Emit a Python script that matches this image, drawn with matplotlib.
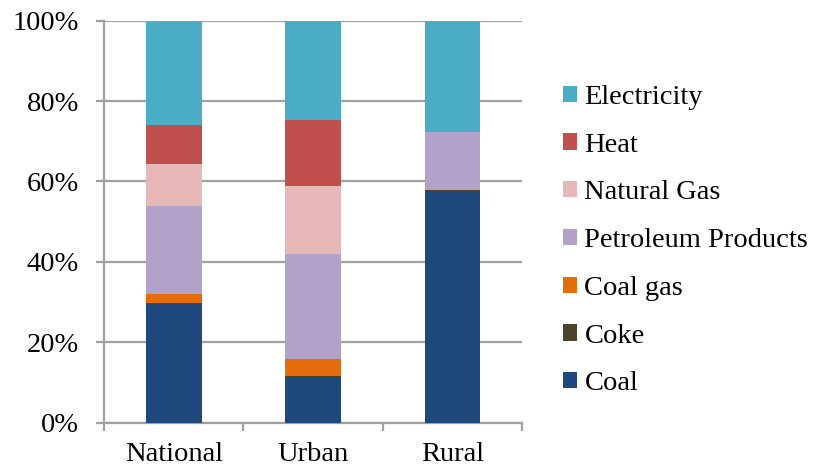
import matplotlib.pyplot as plt
import numpy as np

categories = ["National", "Urban", "Rural"]
series = ["Coal", "Coke", "Coal gas", "Petroleum Products", "Natural Gas", "Heat", "Electricity"]
coal = [29.6, 11.3, 57.7]
coke = [0.2, 0.2, 0.2]
coal_gas = [2.3, 4.3, 0.1]
petroleum = [21.9, 26.2, 14.3]
natural_gas = [10.3, 16.9, 0.0]
heat = [9.8, 16.3, 0.0]
electricity = [25.9, 24.8, 27.7]
values = [coal, coke, coal_gas, petroleum, natural_gas, heat, electricity]
colors = ["#1F497D", "#4A452A", "#E46C0A", "#B3A2C7", "#E6B9B8", "#C0504D", "#4BACC6"]

plt.rcParams['font.family'] = ['Liberation Serif', 'DejaVu Serif']
fig = plt.figure(figsize=(8.16, 4.70), dpi=100)
ax = fig.add_axes([0.1275, 0.1006, 0.5125, 0.8554])

x = np.arange(len(categories))
bottom = np.zeros(len(categories))
handles = []
for name, vals, col in zip(series, values, colors):
    v = np.array(vals) / 100.0
    h = ax.bar(x, v, width=0.4, bottom=bottom, color=col, label=name, zorder=3)
    handles.append(h)
    bottom += v

ax.set_xlim(-0.5, 2.5)
ax.set_ylim(0, 1)
ax.set_yticks(np.arange(0, 1.01, 0.2))
ax.set_yticklabels([f"{int(round(t*100))}%" for t in np.arange(0, 1.01, 0.2)])
ax.yaxis.grid(True, color="#A0A0A0", linewidth=1.6, zorder=0)
ax.set_xticks(x)
ax.set_xticklabels(categories)
ax.set_xticks([-0.5, 0.5, 1.5, 2.5], minor=True)
ax.tick_params(axis='x', which='major', length=0, labelsize=20.5, pad=14)
ax.tick_params(axis='x', which='minor', length=6, width=1.6, color="#A0A0A0")
ax.tick_params(axis='y', length=6, width=1.6, color="#A0A0A0", labelsize=20.5, pad=12)
for s in ["top", "right"]:
    ax.spines[s].set_visible(False)
for s in ["left", "bottom"]:
    ax.spines[s].set_color("#A0A0A0")
    ax.spines[s].set_linewidth(1.6)

fig.legend(handles[::-1], series[::-1], loc="center left", bbox_to_anchor=(0.69, 0.488),
           frameon=False, fontsize=20.5, handlelength=0.5, handleheight=0.5,
           handletextpad=0.25, labelspacing=0.8, borderpad=0, borderaxespad=0)

fig.savefig("out.png", dpi=100)
